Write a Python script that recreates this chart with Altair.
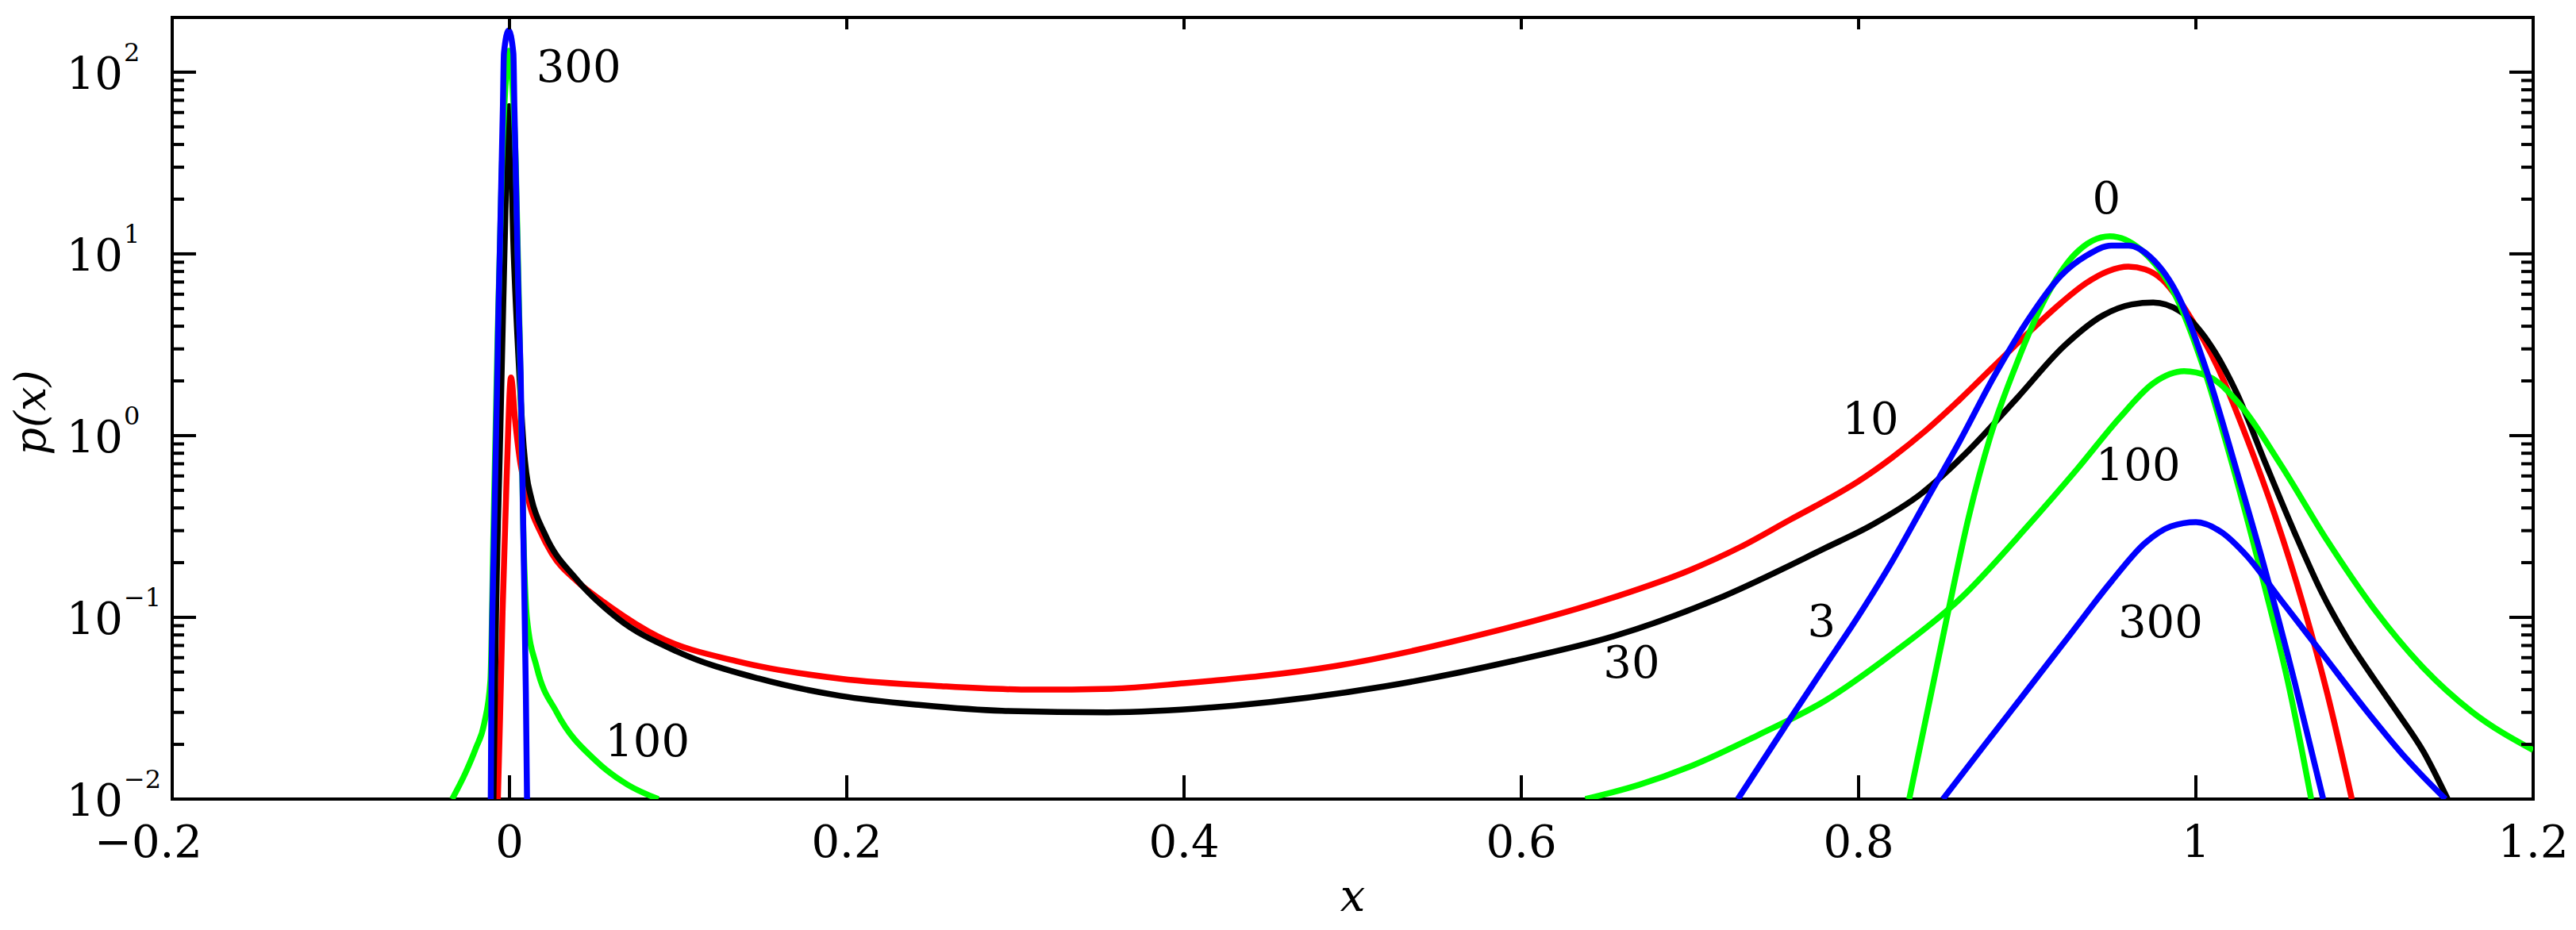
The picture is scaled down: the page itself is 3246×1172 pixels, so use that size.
import altair as alt
import pandas as pd

# ---------------- data ----------------
# curve "0" (green)
c0_x = [0.830, 0.8526, 0.8654, 0.878, 0.8938, 0.9108, 0.928, 0.949, 0.9676, 0.9875, 1.0045, 1.0215, 1.0386, 1.0556, 1.0684]
c0_y = [0.01, 0.102, 0.36, 0.98, 2.5, 5.7, 9.9, 12.5, 10.5, 6.0, 2.37, 0.70, 0.177, 0.04, 0.01]

# curve "3" (blue)
c3_x = [0.7284, 0.760, 0.780, 0.800, 0.820, 0.840, 0.860, 0.880, 0.900, 0.920, 0.935, 0.950, 0.960, 0.9733, 0.990,
        1.0073, 1.0244, 1.0414, 1.0584, 1.0755]
c3_y = [0.01, 0.0282, 0.0537, 0.102, 0.204, 0.437, 0.933, 2.09, 4.27, 7.59, 9.77, 11.1, 11.1, 9.55, 5.75,
        2.14, 0.631, 0.178, 0.0447, 0.01]

# curve "10" (red)
c10_x = [-0.0069, -0.0056, -0.0041, -0.0017, 0.0009, 0.0034, 0.0065, 0.0095, 0.0125, 0.018, 0.025, 0.040, 0.055,
         0.088, 0.136, 0.196, 0.256, 0.310, 0.357, 0.400, 0.490, 0.580, 0.655, 0.700, 0.730, 0.760, 0.780, 0.800,
         0.820, 0.840, 0.860, 0.880, 0.900, 0.920, 0.935, 0.948, 0.960, 0.970, 0.980, 0.996, 1.013, 1.030, 1.047,
         1.064, 1.078, 1.0925]
c10_y = [0.01, 0.028, 0.108, 0.58, 2.09, 1.2, 0.70, 0.52, 0.40, 0.30, 0.225, 0.158, 0.123,
         0.0785, 0.057, 0.046, 0.0418, 0.0400, 0.0405, 0.0434, 0.054, 0.082, 0.129, 0.182, 0.244, 0.347, 0.437, 0.562,
         0.759, 1.07, 1.58, 2.40, 3.63, 5.37, 6.92, 8.04, 8.51, 8.22, 7.24, 4.59, 2.37, 0.98, 0.362,
         0.114, 0.0379, 0.01]

# curve "30" (black)
c30_x = [-0.0095, -0.008, -0.0055, -0.003, -0.0003, 0.0025, 0.0055, 0.0085, 0.010, 0.013, 0.021, 0.040, 0.064, 0.100,
         0.148, 0.196, 0.244, 0.292, 0.3547, 0.4297, 0.5196, 0.595, 0.655, 0.715, 0.780, 0.8086, 0.837, 0.8654,
         0.894, 0.922, 0.945, 0.962, 0.9747, 0.9903, 1.0073, 1.0244, 1.0414, 1.0584, 1.075, 1.090, 1.105, 1.120,
         1.135, 1.1493]
c30_y = [0.01, 0.1, 1.0, 10.0, 65.0, 10.0, 2.5, 0.85, 0.62, 0.45, 0.287, 0.161, 0.099, 0.0645,
         0.046, 0.037, 0.0329, 0.0306, 0.030, 0.0327, 0.0418, 0.0575, 0.0788, 0.125, 0.24, 0.325, 0.478, 0.83,
         1.61, 3.12, 4.59, 5.27, 5.4, 4.85, 3.29, 1.70, 0.70, 0.295, 0.135, 0.0759, 0.0468, 0.0295,
         0.0182, 0.01]

# curve "100" (green): spike near 0 and hump near 1
c100a_x = [-0.034, -0.026, -0.020, -0.015, -0.0113, -0.0095, -0.0072, -0.0045, -0.0018, -0.0003, 0.0012, 0.0038,
           0.0062, 0.0082, 0.0103, 0.0162, 0.028, 0.052, 0.070, 0.0883]
c100a_y = [0.01, 0.014, 0.019, 0.026, 0.045, 0.3, 3.0, 30.0, 100.0, 131.0, 100.0, 30.0,
           3.0, 0.3, 0.1, 0.053, 0.030, 0.016, 0.012, 0.01]
c100b_x = [0.638, 0.670, 0.700, 0.740, 0.780, 0.820, 0.860, 0.900, 0.930, 0.955, 0.975, 0.993, 1.0073, 1.0272,
           1.050, 1.0783, 1.1067, 1.135, 1.1635, 1.200]
c100b_y = [0.01, 0.012, 0.0151, 0.0224, 0.0347, 0.0631, 0.126, 0.316, 0.661, 1.26, 1.95, 2.26, 2.12, 1.44,
           0.70, 0.261, 0.108, 0.0526, 0.0303, 0.0186]

# curve "300" (blue): spike near 0 and hump near 1
c300a_x = [-0.0111, -0.0107, -0.0091, -0.0072, -0.0066, -0.0059, -0.0039, -0.0033, -0.0005, 0.0023, 0.0029,
           0.0049, 0.0056, 0.0066, 0.0082, 0.0097, 0.0104]
c300a_y = [0.01, 0.039, 0.297, 2.24, 4.6, 8.8, 65.0, 127.0, 170.0, 127.0, 65.0,
           8.8, 4.6, 2.24, 0.297, 0.039, 0.01]
c300b_x = [0.850, 0.875, 0.900, 0.925, 0.950, 0.970, 0.985, 1.000, 1.015, 1.030, 1.050, 1.075, 1.100, 1.125, 1.148]
c300b_y = [0.01, 0.020, 0.0398, 0.0794, 0.158, 0.257, 0.316, 0.334, 0.295, 0.219, 0.126, 0.0631, 0.0316, 0.0166, 0.01]

# curve labels
lab_text = ["300", "100", "0", "10", "100", "300", "3", "30"]
lab_x = [0.041, 0.0817, 0.947, 0.807, 0.9657, 0.979, 0.778, 0.6654]
lab_y = [88.5, 0.0172, 16.7, 1.02, 0.570, 0.0775, 0.0788, 0.0466]

# axes
xtick_vals = [-0.2, 0, 0.2, 0.4, 0.6, 0.8, 1, 1.2]
xtick_text = ["\u22120.2", "0", "0.2", "0.4", "0.6", "0.8", "1", "1.2"]
ytick_vals = [0.01, 0.1, 1, 10, 100]
ytick_exp = ["\u22122", "\u22121", "0", "1", "2"]
yminor_vals = [m * 10.0 ** k for k in range(-2, 2) for m in range(2, 10)]

GREEN, BLUE, RED, BLACK = "#00ff00", "#0000ff", "#ff0000", "#000000"
SERIF = "DejaVu Serif"
W, H = 2975, 985
XS = alt.Scale(domain=[-0.2, 1.2], nice=False, zero=False)
YS = alt.Scale(type="log", domain=[0.01, 200], nice=False)
LW = 7.5
FS = 56   # DejaVu Serif is wider than Times


def line_layer(xs, ys, color, sw=LW):
    df = pd.DataFrame({"x": xs, "y": ys, "i": list(range(len(xs)))})
    return alt.Chart(df).mark_line(
        color=color, strokeWidth=sw, interpolate="monotone", clip=True, strokeJoin="round"
    ).encode(
        x=alt.X("x:Q", scale=XS, axis=None),
        y=alt.Y("y:Q", scale=YS, axis=None),
        order="i:Q",
    )


lines = [
    line_layer(c10_x, c10_y, RED),
    line_layer(c30_x, c30_y, BLACK),
    line_layer(c0_x, c0_y, GREEN),
    line_layer(c100a_x, c100a_y, GREEN),
    line_layer(c100b_x, c100b_y, GREEN),
    line_layer(c3_x, c3_y, BLUE),
    line_layer(c300a_x, c300a_y, BLUE),
    line_layer(c300b_x, c300b_y, BLUE),
]

# ticks (inward)
xt_df = pd.DataFrame({"v": xtick_vals[1:-1]})
yt_df = pd.DataFrame({"v": ytick_vals})
ym_df = pd.DataFrame({"v": yminor_vals})


def xrule(df, y1, y2):
    return alt.Chart(df).mark_rule(color="black", strokeWidth=4).encode(
        x=alt.X("v:Q", scale=XS, axis=None), y=alt.value(y1), y2=alt.value(y2))


def yrule(df, x1, x2):
    return alt.Chart(df).mark_rule(color="black", strokeWidth=4).encode(
        y=alt.Y("v:Q", scale=YS, axis=None), x=alt.value(x1), x2=alt.value(x2))


ticks = [
    xrule(xt_df, H, H - 30),
    xrule(xt_df, 0, 15),
    yrule(yt_df, 0, 30),
    yrule(yt_df, W, W - 30),
    yrule(ym_df, 0, 15),
    yrule(ym_df, W, W - 15),
]

# x tick labels
xl_df = pd.DataFrame({"v": xtick_vals[1:], "t": xtick_text[1:]})
xl_neg = pd.DataFrame({"v": xtick_vals[:1], "t": xtick_text[:1]})
xlab = alt.Chart(xl_df).mark_text(font=SERIF, fontSize=FS, align="center", baseline="alphabetic").encode(
    x=alt.X("v:Q", scale=XS, axis=None), y=alt.value(H + 73), text="t:N")
xlab_neg = alt.Chart(xl_neg).mark_text(font=SERIF, fontSize=FS, align="right", baseline="alphabetic", dx=38).encode(
    x=alt.X("v:Q", scale=XS, axis=None), y=alt.value(H + 73), text="t:N")

# y tick labels: 10 with superscript exponent
yl_df = pd.DataFrame({"v": ytick_vals, "b": ["10"] * len(ytick_vals), "e": ytick_exp})
ylab_b = alt.Chart(yl_df).mark_text(font=SERIF, fontSize=FS, align="right", baseline="alphabetic", dy=21).encode(
    y=alt.Y("v:Q", scale=YS, axis=None), x=alt.value(-62), text="b:N")
ylab_e = alt.Chart(yl_df).mark_text(font=SERIF, fontSize=32, align="left", baseline="alphabetic", dy=-14).encode(
    y=alt.Y("v:Q", scale=YS, axis=None), x=alt.value(-61), text="e:N")

# axis titles
xtitle = alt.Chart(pd.DataFrame({"t": ["x"]})).mark_text(
    font=SERIF, fontSize=FS, fontStyle="italic", align="center", baseline="alphabetic"
).encode(x=alt.value(W / 2), y=alt.value(H + 141), text="t:N")
ytitle = alt.Chart(pd.DataFrame({"t": ["p(x)"]})).mark_text(
    font=SERIF, fontSize=54, fontStyle="italic", align="center", baseline="alphabetic", angle=270
).encode(x=alt.value(-160), y=alt.value(498), text="t:N")

# curve labels
cl_df = pd.DataFrame({"x": lab_x, "y": lab_y, "t": lab_text})
clabels = alt.Chart(cl_df).mark_text(font=SERIF, fontSize=FS, align="center", baseline="alphabetic").encode(
    x=alt.X("x:Q", scale=XS, axis=None), y=alt.Y("y:Q", scale=YS, axis=None), text="t:N")

chart = alt.layer(
    *lines, *ticks, xlab, xlab_neg, ylab_b, ylab_e, xtitle, ytitle, clabels
).properties(
    width=W, height=H,
    padding={"left": 209, "top": 14, "right": 46, "bottom": 160},
    autosize=alt.AutoSizeParams(type="none"),
    background="white",
).configure_view(stroke="black", strokeWidth=4)

chart.save("out.html", embed_options={"renderer": "svg", "actions": False})
